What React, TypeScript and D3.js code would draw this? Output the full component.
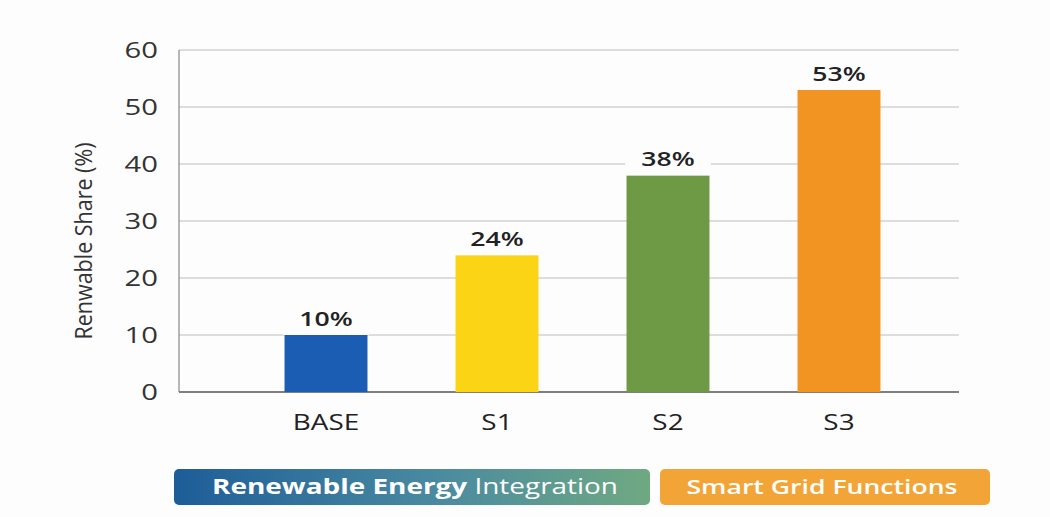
import React from "react";
import * as d3 from "d3";

// Scenario renewable shares
const categories = ["BASE", "S1", "S2", "S3"];
const shares = [10, 24, 38, 53];
const barColors = ["#1a5db3", "#fcd416", "#6f9a45", "#f29422"];
const yTicks = [0, 10, 20, 30, 40, 50, 60];
const yTitle = "Renwable Share (%)";
const legendItems = [
  { bold: "Renewable Energy", light: " Integration" },
  { bold: "Smart Grid Functions", light: "" },
];

const W = 1050;
const H = 517;
const FONT = "'Open Sans', 'DejaVu Sans', sans-serif";
const SX = 1.33; // wide lettering
const BG = "#fdfdfe";

export default function App() {
  const left = 179;
  const right = 959;
  const top = 50;
  const bottom = 392;

  const y = d3.scaleLinear().domain([0, 60]).range([bottom, top]);
  const x = d3
    .scaleBand<string>()
    .domain(categories)
    .range([240.5, 924.5])
    .paddingInner(0.515)
    .paddingOuter(0.2575);

  const wide = (tx: number, ty: number) => `translate(${tx},${ty}) scale(${SX},1)`;

  return (
    <svg
      width={W}
      height={H}
      style={{ position: "absolute", left: 0, top: 0, background: BG }}
      fontFamily={FONT}
    >
      <defs>
        <linearGradient id="reGrad" x1="0" x2="1" y1="0" y2="0">
          <stop offset="0" stopColor="#1d5d98" />
          <stop offset="0.55" stopColor="#4a8aa0" />
          <stop offset="1" stopColor="#6fa982" />
        </linearGradient>
      </defs>

      {/* gridlines */}
      {yTicks.map((t) => (
        <line
          key={t}
          x1={left}
          x2={right}
          y1={y(t)}
          y2={y(t)}
          stroke={t === 0 ? "#555" : "#bdbdbd"}
          strokeWidth={t === 0 ? 1.4 : 1.2}
        />
      ))}
      <line x1={left} x2={left} y1={top} y2={bottom} stroke="#888" strokeWidth={1.2} />

      {/* y tick labels */}
      {yTicks.map((t) => (
        <text
          key={t}
          transform={wide(158, y(t))}
          dy="0.36em"
          textAnchor="end"
          fontSize={22}
          fill="#333"
        >
          {t}
        </text>
      ))}

      {/* y axis title */}
      <text
        transform={`translate(92,${(top + bottom) / 2 + 20}) scale(${SX},1) rotate(-90)`}
        textAnchor="middle"
        fontSize={18}
        fill="#333"
        textLength={197}
        lengthAdjust="spacingAndGlyphs"
      >
        {yTitle}
      </text>

      {/* bars */}
      {categories.map((c, i) => {
        const bx = x(c)!;
        const bw = x.bandwidth();
        const by = y(shares[i]);
        const cx = bx + bw / 2;
        return (
          <g key={c}>
            <rect x={bx} y={by} width={bw} height={bottom - by} fill={barColors[i]} />
            <rect x={cx - 43} y={by - 32} width={86} height={32} fill={BG} />
            <text
              transform={wide(cx, by - 9)}
              textAnchor="middle"
              fontSize={20}
              fontWeight={600}
              fill="#222"
            >
              {shares[i]}%
            </text>
            <text
              transform={wide(cx, bottom + 38)}
              textAnchor="middle"
              fontSize={21}
              fill="#222"
            >
              {c}
            </text>
          </g>
        );
      })}

      {/* legend */}
      <rect x={174} y={469} width={476} height={36} rx={5} fill="url(#reGrad)" />
      <text transform={wide(415, 494)} textAnchor="middle" fontSize={21} fill="#fff">
        <tspan fontWeight={700}>{legendItems[0].bold}</tspan>
        <tspan fontWeight={400}>{legendItems[0].light}</tspan>
      </text>
      <rect x={660} y={469} width={330} height={36} rx={5} fill="#f3a436" />
      <text
        transform={wide(822, 494)}
        textAnchor="middle"
        fontSize={20}
        fontWeight={600}
        fill="#fff"
      >
        {legendItems[1].bold}
      </text>
    </svg>
  );
}
